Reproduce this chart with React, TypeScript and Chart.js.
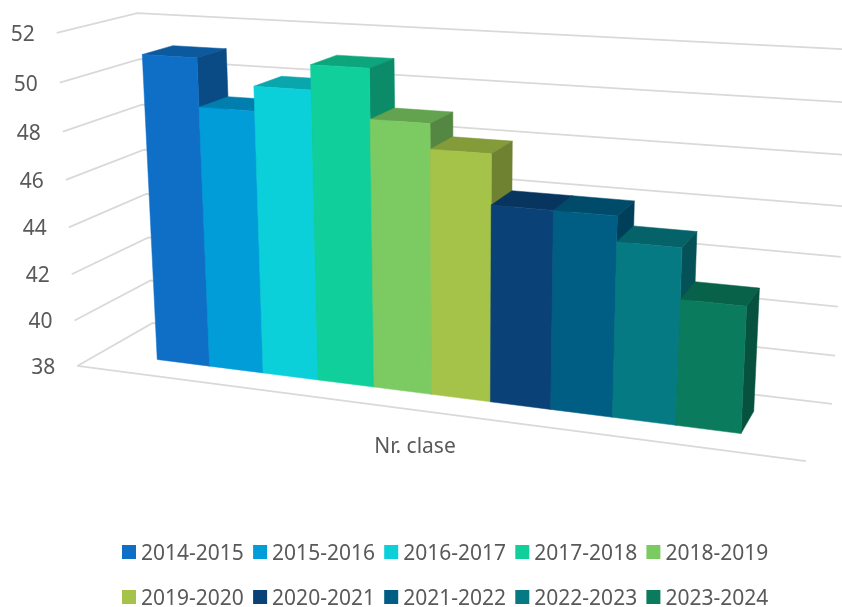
import { useEffect, useRef } from "react";
import { Chart, registerables } from "chart.js";

Chart.register(...registerables);

const categories = ["Nr. clase"];
const seriesLabels = ["2014-2015", "2015-2016", "2016-2017", "2017-2018", "2018-2019", "2019-2020", "2020-2021", "2021-2022", "2022-2023", "2023-2024"];
const seriesValues = [51, 49, 50, 51, 49, 48, 46, 46, 45, 43];
const seriesColors = ["#0F6FC6", "#009DD9", "#0BD0D9", "#10CF9B", "#7CCA62", "#A5C249", "#0A4277", "#005E85", "#067A82", "#0A7B5C"];
const axisMin = 38;
const axisMax = 52;
const axisStep = 2;

const FONT = '21px "Noto Sans"';
const TEXT = "#595959";
const GRID = "#D9D9D9";
const DEPTH_FRONT = 0.3;
const DEPTH_BACK = 0.7;
const TEXT_DROP = 2;

// The plot box: [u, v, w] -> canvas position. u runs along the categories, v up the value axis, w into the depth.
// The back wall runs past the right edge of the canvas, where its lines are cut off.
const boxCorners: [number, number, number, number, number][] = [
  [0, 0, 0, 77, 366],
  [1, 0, 0, 806, 461],
  [1, 0, 1, 832, 404],
  [0, 0, 1, 153, 323],
  [0, 1, 0, 57, 33],
  [0, 1, 1, 137, 13],
  [1, 1, 1, 853, 49.6],
];

function solveProjection(): number[] {
  const rows: number[][] = [];
  const rhs: number[] = [];
  for (const [X, Y, Z, x, y] of boxCorners) {
    rows.push([X, Y, Z, 1, 0, 0, 0, 0, -x * X, -x * Y, -x * Z]);
    rhs.push(x);
    rows.push([0, 0, 0, 0, X, Y, Z, 1, -y * X, -y * Y, -y * Z]);
    rhs.push(y);
  }
  const n = 11;
  const A: number[][] = [];
  for (let i = 0; i < n; i++) {
    const row = new Array(n + 1).fill(0);
    rows.forEach((r, k) => {
      for (let j = 0; j < n; j++) row[j] += r[i] * r[j];
      row[n] += r[i] * rhs[k];
    });
    A.push(row);
  }
  for (let c = 0; c < n; c++) {
    let p = c;
    for (let r = c + 1; r < n; r++) if (Math.abs(A[r][c]) > Math.abs(A[p][c])) p = r;
    [A[c], A[p]] = [A[p], A[c]];
    for (let r = 0; r < n; r++) {
      if (r === c) continue;
      const f = A[r][c] / A[c][c];
      for (let j = c; j <= n; j++) A[r][j] -= f * A[c][j];
    }
  }
  return A.map((r, i) => r[n] / r[i]);
}

const P = solveProjection();
function project(u: number, v: number, w: number): [number, number] {
  const d = P[8] * u + P[9] * v + P[10] * w + 1;
  return [(P[0] * u + P[1] * v + P[2] * w + P[3]) / d, (P[4] * u + P[5] * v + P[6] * w + P[7]) / d];
}

function shade(hex: string, f: number): string {
  const n = parseInt(hex.slice(1), 16);
  return `rgb(${((n >> 16) & 255) * f},${((n >> 8) & 255) * f},${(n & 255) * f})`;
}

function polygon(ctx: CanvasRenderingContext2D, pts: [number, number][], color: string) {
  ctx.beginPath();
  pts.forEach((p, i) => (i ? ctx.lineTo(p[0], p[1]) : ctx.moveTo(p[0], p[1])));
  ctx.closePath();
  ctx.fillStyle = color;
  ctx.strokeStyle = color;
  ctx.lineWidth = 0.5;
  ctx.fill();
  ctx.stroke();
}

function polyline(ctx: CanvasRenderingContext2D, pts: [number, number][]) {
  ctx.beginPath();
  pts.forEach((p, i) => (i ? ctx.lineTo(p[0], p[1]) : ctx.moveTo(p[0], p[1])));
  ctx.stroke();
}

const perspectivePlugin = {
  id: "perspective",
  beforeDatasetsDraw(chart: any) {
    const { ctx, chartArea: area, scales } = chart;
    const toU = (px: number) => (px - area.left) / (area.right - area.left);
    const toV = (py: number) => (area.bottom - py) / (area.bottom - area.top);
    ctx.save();

    // walls and floor
    ctx.strokeStyle = GRID;
    ctx.lineWidth = 1.8;
    ctx.lineJoin = "miter";
    for (const tick of scales.y.ticks) {
      const v = toV(scales.y.getPixelForValue(tick.value));
      polyline(ctx, [project(0, v, 0), project(0, v, 1), project(1, v, 1)]);
    }
    polyline(ctx, [project(0, 0, 0), project(1, 0, 0)]);

    // value labels
    ctx.fillStyle = TEXT;
    ctx.font = FONT;
    ctx.textAlign = "right";
    ctx.textBaseline = "middle";
    for (const tick of scales.y.ticks) {
      const v = toV(scales.y.getPixelForValue(tick.value));
      const [x, y] = project(0, v, 0);
      ctx.fillText(String(tick.value), x - 22, y + TEXT_DROP);
    }

    // bars, left to right
    chart.data.datasets.forEach((ds: any, i: number) => {
      const el = chart.getDatasetMeta(i).data[0];
      const { x, y, base, width } = el.getProps(["x", "y", "base", "width"], true);
      const u0 = toU(x - width / 2);
      const u1 = toU(x + width / 2);
      const v0 = toV(base);
      const v1 = toV(y);
      const color = ds.backgroundColor as string;
      polygon(ctx, [project(u0, v1, DEPTH_FRONT), project(u1, v1, DEPTH_FRONT), project(u1, v1, DEPTH_BACK), project(u0, v1, DEPTH_BACK)], shade(color, 0.8));
      polygon(ctx, [project(u1, v0, DEPTH_FRONT), project(u1, v1, DEPTH_FRONT), project(u1, v1, DEPTH_BACK), project(u1, v0, DEPTH_BACK)], shade(color, 0.67));
      polygon(ctx, [project(u0, v0, DEPTH_FRONT), project(u1, v0, DEPTH_FRONT), project(u1, v1, DEPTH_FRONT), project(u0, v1, DEPTH_FRONT)], color);
    });

    // category label
    ctx.fillStyle = TEXT;
    ctx.font = FONT;
    ctx.textAlign = "center";
    ctx.textBaseline = "middle";
    ctx.fillText(chart.data.labels[0], 415, 445 + TEXT_DROP);

    // legend: two rows of five
    const perRow = 5;
    chart.data.datasets.forEach((ds: any, i: number) => {
      const col = i % perRow;
      const row = Math.floor(i / perRow);
      const left = 122 + col * 131.1;
      const mid = 552 + row * 45;
      ctx.fillStyle = ds.backgroundColor;
      ctx.fillRect(left, mid - 7, 14, 14);
      ctx.fillStyle = TEXT;
      ctx.textAlign = "left";
      ctx.fillText(ds.label, left + 19, mid + TEXT_DROP);
    });

    ctx.restore();
    return false;
  },
};

export default function App() {
  const ref = useRef<HTMLCanvasElement>(null);
  useEffect(() => {
    const chart = new Chart(ref.current!, {
      type: "bar",
      data: {
        labels: categories,
        datasets: seriesLabels.map((label, i) => ({
          label,
          data: [seriesValues[i]],
          backgroundColor: seriesColors[i],
          base: axisMin,
        })),
      },
      options: {
        responsive: false,
        animation: false,
        events: [],
        layout: { padding: 0 },
        datasets: { bar: { categoryPercentage: 0.82, barPercentage: 1 } },
        plugins: { legend: { display: false }, tooltip: { enabled: false }, title: { display: false } },
        scales: {
          x: { display: false },
          y: { display: false, min: axisMin, max: axisMax, ticks: { stepSize: axisStep } },
        },
      } as any,
      plugins: [perspectivePlugin],
    });
    return () => chart.destroy();
  }, []);
  return <canvas ref={ref} width={842} height={607} style={{ position: "fixed", left: 0, top: 0, display: "block" }} />;
}
